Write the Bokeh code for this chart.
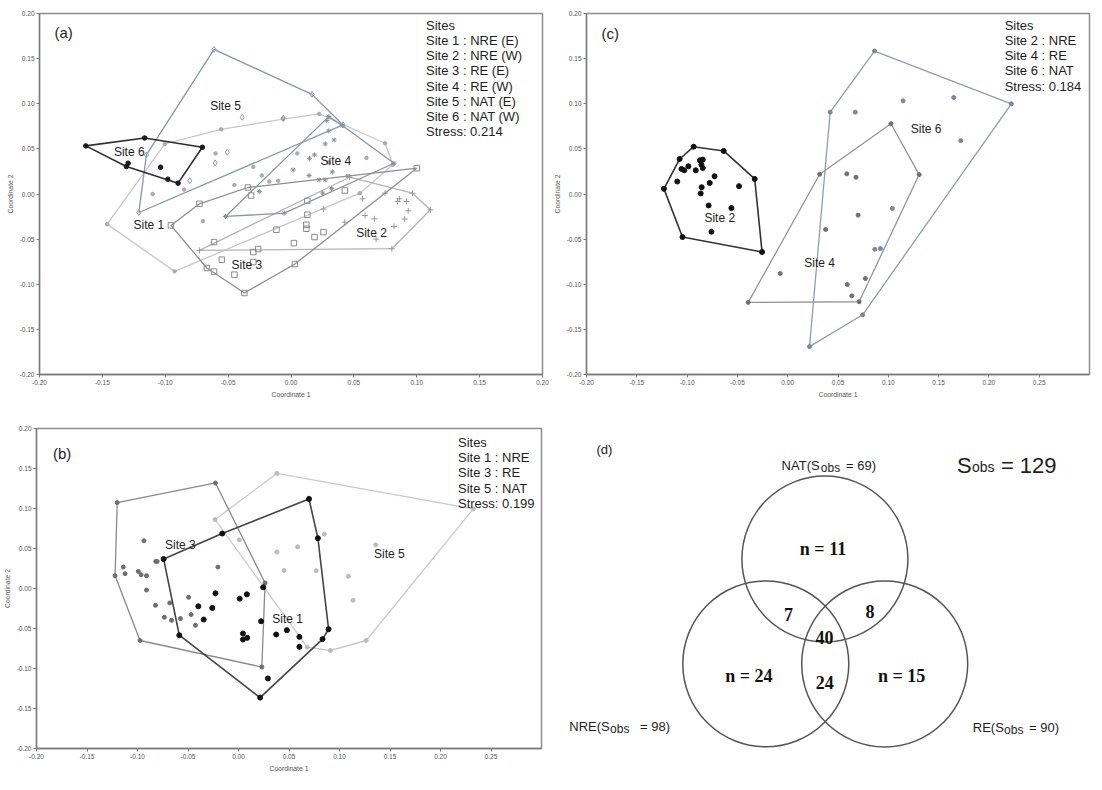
from bokeh.plotting import figure
from bokeh.layouts import column, row
from bokeh.models import Range1d, FixedTicker, PrintfTickFormatter
from bokeh.core.properties import value
from bokeh.embed import file_html
from bokeh.resources import INLINE

SANS = "Liberation Sans"
SERIF = "Liberation Serif"

# ---------------------------------------------------------------- data
ticks_a = [-0.20, -0.15, -0.10, -0.05, 0.00, 0.05, 0.10, 0.15, 0.20]
ticks_wide = [-0.20, -0.15, -0.10, -0.05, 0.00, 0.05, 0.10, 0.15, 0.20, 0.25]
stress = {"a": 0.214, "b": 0.199, "c": 0.184}

# (a) all six sites
a_s1_x = [-0.1462, -0.1003, -0.0555, -0.0062, 0.0224, 0.0748, 0.0810, 0.0547, -0.0926,
          -0.085, -0.060, -0.030, -0.045, 0.005, 0.030, 0.045, -0.110, -0.070, 0.060,
          -0.0232, -0.0173, -0.0102]
a_s1_y = [-0.0334, 0.0555, 0.0717, 0.0830, 0.0887, 0.0562, 0.0323, 0.0009, -0.0857,
          0.005, 0.045, 0.030, 0.010, 0.045, 0.035, 0.020, 0.000, -0.030, 0.040,
          0.0205, 0.0138, 0.0146]
a_s2_x = [-0.0728, 0.0465, 0.0966, 0.1108, 0.0802, 0.0569, 0.0589, 0.0663, 0.0847, 0.0861,
          0.0918, 0.0932, 0.0904, 0.0819, 0.0677, 0.0428, 0.0258, 0.0748]
a_s2_y = [-0.0625, 0.0186, 0.0009, -0.0175, -0.0606, -0.0053, -0.0238, -0.0275, -0.0083, -0.0053,
          -0.0083, -0.0186, -0.0278, -0.0359, -0.0500, -0.0312, -0.0168, 0.0009]
a_s3_x = [-0.0955, -0.0728, -0.0343, 0.1000, 0.0031, -0.0371, -0.0669, -0.0317, -0.0612, -0.0116,
          0.0130, 0.0130, 0.0122, 0.0122, 0.0187, 0.0258, 0.0023, -0.0300, -0.0261, -0.0550,
          -0.0450, -0.0612, -0.0300, 0.0428]
a_s3_y = [-0.0348, -0.0109, 0.0072, 0.0286, -0.0776, -0.1097, -0.0820, -0.0017, -0.0533, -0.0396,
          -0.0076, -0.0230, -0.0341, -0.0385, -0.0477, -0.0422, -0.0544, -0.0643, -0.0610, -0.0728,
          -0.0894, -0.0860, -0.0754, 0.0039]
a_s4_x = [-0.0521, 0.0300, 0.0408, 0.0819, -0.0054, 0.0187, 0.0147, 0.0272, 0.0343, 0.0300,
          0.0285, 0.0017, 0.0144, 0.0224, 0.0272, 0.0329, 0.0323, 0.0252, -0.0252]
a_s4_y = [-0.0249, 0.0857, 0.0758, 0.0341, -0.0212, 0.0433, 0.0396, 0.0555, 0.0599, 0.0699,
          0.0813, 0.0267, 0.0205, 0.0157, 0.0157, 0.0245, 0.0060, 0.0010, 0.0028]
a_s5_x = [-0.0612, 0.0167, 0.0414, -0.1210, -0.1150, -0.0388, -0.0062, -0.0507, -0.0603, -0.0805]
a_s5_y = [0.1602, 0.1104, 0.0765, -0.0205, 0.0433, 0.0850, 0.0839, 0.0463, 0.0345, 0.0146]
a_s6_x = [-0.1632, -0.1164, -0.0705, -0.0898, -0.0980, -0.1309, -0.1295, -0.1037]
a_s6_y = [0.0533, 0.0621, 0.0518, 0.0120, 0.0164, 0.0304, 0.0341, 0.0297]

# (b) east sites
b_s1_x = [-0.0741, -0.0161, 0.0698, 0.0786, 0.0892, 0.0832, 0.0214, -0.0586, -0.0398, -0.0345,
          -0.0260, -0.0228, 0.0012, 0.0083, 0.0245, 0.0224, 0.0044, 0.0044, 0.0086, 0.0373,
          0.0479, 0.0603, 0.0603, 0.0291]
b_s1_y = [0.0368, 0.0687, 0.1119, 0.0629, -0.0509, -0.0633, -0.1364, -0.0584, -0.0222, -0.0388,
          -0.0243, -0.0060, -0.0127, -0.0073, 0.0015, -0.0409, -0.0563, -0.0638, -0.0617, -0.0575,
          -0.0521, -0.0604, -0.0729, -0.1124]
b_s3_x = [-0.1201, -0.0228, 0.0263, 0.0231, -0.0975, -0.1222, -0.0936, -0.1141, -0.1123, -0.0992,
          -0.0964, -0.0911, -0.0911, -0.0819, -0.0805, -0.0822, -0.0681, -0.0734, -0.0663, -0.0575,
          -0.0494, -0.0469, -0.0426, -0.0204]
b_s3_y = [0.1074, 0.1319, 0.0069, -0.0982, -0.0650, 0.0160, 0.0596, 0.0268, 0.0185, 0.0214,
          0.0172, 0.0160, -0.0019, 0.0339, 0.0339, -0.0210, -0.0181, -0.0359, -0.0397, -0.0376,
          -0.0110, -0.0326, -0.0459, 0.0268]
b_s5_x = [0.0380, 0.2325, 0.1264, 0.0910, 0.0680, -0.0232, 0.0009, 0.0380, 0.0585, 0.0850,
          0.0451, 0.0769, 0.1087, 0.1133, 0.1359, 0.0700]
b_s5_y = [0.1439, 0.0995, -0.0650, -0.0775, -0.0733, 0.0862, 0.0608, 0.0455, 0.0521, 0.0679,
          0.0226, 0.0222, 0.0152, -0.0147, 0.0546, 0.1130]

# (c) west sites
c_s2_x = [-0.1230, -0.1074, -0.0935, -0.0636, -0.0328, -0.0255, -0.1046, -0.1098, -0.1056, -0.1028,
          -0.0987, -0.0914, -0.0872, -0.0844, -0.0858, -0.0844, -0.0727, -0.0775, -0.0855, -0.0865,
          -0.0484, -0.0786, -0.0560, -0.0758]
c_s2_y = [0.0057, 0.0388, 0.0524, 0.0477, 0.0167, -0.0642, -0.0477, 0.0138, 0.0278, 0.0263,
          0.0307, 0.0263, 0.0374, 0.0381, 0.0326, 0.0289, 0.0197, 0.0123, 0.0075, 0.0006,
          0.0087, -0.0127, -0.0156, -0.0418]
c_s4_x = [-0.0393, 0.0318, 0.1026, 0.1307, 0.0710, -0.0074, 0.0377, 0.0588, 0.0679, 0.0700,
          0.0772, 0.0592, 0.0637]
c_s4_y = [-0.1201, 0.0219, 0.0778, 0.0215, -0.1194, -0.0881, -0.0392, 0.0223, 0.0186, -0.0234,
          -0.0937, -0.1003, -0.1128]
c_s6_x = [0.0863, 0.2223, 0.0745, 0.0217, 0.0422, 0.0672, 0.1147, 0.1650, 0.1720, 0.1040,
          0.0866, 0.0922]
c_s6_y = [0.1584, 0.0999, -0.1338, -0.1691, 0.0907, 0.0907, 0.1032, 0.1069, 0.0591, -0.0160,
          -0.0613, -0.0605]

# (d) shared species
venn_sets = ["NAT", "NRE", "RE"]
venn_sobs = [69, 98, 90]
venn_unique = [11, 24, 15]
venn_pairs = [7, 8, 24]          # NAT-NRE, NAT-RE, NRE-RE
venn_core = 40
venn_total = 129


# ---------------------------------------------------------------- helpers
def convex_hull(xs, ys):
    pts = sorted(set(zip(xs, ys)))

    def cross(o, a, b):
        return (a[0] - o[0]) * (b[1] - o[1]) - (a[1] - o[1]) * (b[0] - o[0])

    lower, upper = [], []
    for pt in pts:
        while len(lower) >= 2 and cross(lower[-2], lower[-1], pt) <= 0:
            lower.pop()
        lower.append(pt)
    for pt in reversed(pts):
        while len(upper) >= 2 and cross(upper[-2], upper[-1], pt) <= 0:
            upper.pop()
        upper.append(pt)
    ring = lower[:-1] + upper[:-1]
    ring.append(ring[0])
    return [q[0] for q in ring], [q[1] for q in ring]


def put_text(p, xs, ys, texts, size, font=SANS, align="left", baseline="middle",
             color="#1e1e1e", style="normal"):
    p.text(x=xs, y=ys, text=texts, text_font=value(font), text_font_size=size,
           text_align=align, text_baseline=baseline, text_color=color,
           text_font_style=style)


def legend_block(p, x0, y0, dy, lines):
    ys = [y0 - i * dy for i in range(len(lines))]
    put_text(p, [x0] * len(lines), ys, lines, "13px")


def draw_site(p, xs, ys, marker, size, color, hull_color, hull_width, hollow=False):
    hx, hy = convex_hull(xs, ys)
    p.line(hx, hy, line_color=hull_color, line_width=hull_width)
    p.scatter(xs, ys, marker=marker, size=size, line_color=color,
              fill_color=None if hollow else color, line_width=1)


def nmds_figure(width, height, x_end, xticks, left, right, top, bottom):
    p = figure(width=width, height=height, x_range=Range1d(-0.2, x_end),
               y_range=Range1d(-0.2, 0.2), output_backend="svg", toolbar_location=None,
               min_border_left=left, min_border_right=right,
               min_border_top=top, min_border_bottom=bottom)
    p.xaxis.ticker = FixedTicker(ticks=xticks)
    p.yaxis.ticker = FixedTicker(ticks=ticks_a)
    p.xaxis.axis_label = "Coordinate 1"
    p.yaxis.axis_label = "Coordinate 2"
    for ax in (p.xaxis[0], p.yaxis[0]):
        ax.formatter = PrintfTickFormatter(format="%.2f")
        ax.major_label_text_font = SANS
        ax.major_label_text_font_size = "6.5px"
        ax.major_label_text_color = "#555555"
        ax.axis_label_text_font = SANS
        ax.axis_label_text_font_size = "6.8px"
        ax.axis_label_text_font_style = "normal"
        ax.axis_label_text_color = "#555555"
        ax.axis_line_color = "#7a7a7a"
        ax.axis_line_width = 1.3
        ax.major_tick_line_color = "#7a7a7a"
        ax.major_tick_out = 3
        ax.major_tick_in = 0
        ax.minor_tick_line_color = None
        ax.major_label_standoff = 2
        ax.axis_label_standoff = 3
    p.xgrid.visible = False
    p.ygrid.visible = False
    p.outline_line_color = "#8c8c8c"
    p.outline_line_width = 1.5
    p.background_fill_color = "white"
    return p


# ---------------------------------------------------------------- (a)
pa = nmds_figure(550, 420, 0.2, ticks_a, 39, 8, 13, 46)
draw_site(pa, a_s1_x, a_s1_y, "circle", 3.5, "#ababab", "#c8c8c8", 1.3)
draw_site(pa, a_s2_x, a_s2_y, "cross", 6, "#9a9a9a", "#b4b4b4", 1.3)
draw_site(pa, a_s3_x, a_s3_y, "square", 5.5, "#8a8a8a", "#8e8e8e", 1.3, hollow=True)
draw_site(pa, a_s4_x, a_s4_y, "asterisk", 5, "#8a9099", "#8896aa", 1.3)
draw_site(pa, a_s5_x, a_s5_y, "diamond", 6, "#8d9cb0", "#8497b0", 1.3, hollow=True)
draw_site(pa, a_s6_x, a_s6_y, "circle", 4.5, "#1a1a1a", "#2e2e2e", 1.6)
put_text(pa, [-0.1881], [0.1790], ["(a)"], "15px")
put_text(pa, [-0.0521, -0.1286, 0.0357, -0.1130, 0.0640, -0.0351],
         [0.0975, 0.0466, 0.0370, -0.0341, -0.0433, -0.0791],
         ["Site 5", "Site 6", "Site 4", "Site 1", "Site 2", "Site 3"], "12px", align="center")
legend_block(pa, 0.1074, 0.1867, 0.0168,
             ["Sites", "Site 1 : NRE (E)", "Site 2 : NRE (W)", "Site 3 : RE (E)",
              "Site 4 : RE (W)", "Site 5 : NAT (E)", "Site 6 : NAT (W)",
              "Stress: %.3f" % stress["a"]])

# ---------------------------------------------------------------- (c)
pc = nmds_figure(552, 420, 0.3, ticks_wide, 35, 13, 13, 46)
draw_site(pc, c_s4_x, c_s4_y, "circle", 4, "#707070", "#959595", 1.3)
draw_site(pc, c_s6_x, c_s6_y, "circle", 4, "#7a8799", "#8d9db3", 1.3)
draw_site(pc, c_s2_x, c_s2_y, "circle", 5, "#111111", "#333333", 1.6)
put_text(pc, [-0.1851], [0.1779], ["(c)"], "15px")
put_text(pc, [-0.0675, 0.0318, 0.1376], [-0.0263, -0.0760, 0.0723],
         ["Site 2", "Site 4", "Site 6"], "12px", align="center")
legend_block(pc, 0.2157, 0.1868, 0.0168,
             ["Sites", "Site 2 : NRE", "Site 4 : RE", "Site 6 : NAT",
              "Stress: %.3f" % stress["c"]])

# ---------------------------------------------------------------- (b)
pb = nmds_figure(560, 370, 0.3, ticks_wide, 36, 19, 8, 42)
draw_site(pb, b_s5_x, b_s5_y, "circle", 4, "#bcbcbc", "#cacaca", 1.3)
draw_site(pb, b_s3_x, b_s3_y, "circle", 4, "#6e6e6e", "#8a8a8a", 1.3)
draw_site(pb, b_s1_x, b_s1_y, "circle", 5, "#111111", "#444444", 1.6)
put_text(pb, [-0.1837], [0.1688], ["(b)"], "15px")
put_text(pb, [-0.0575, 0.0486, 0.1494], [0.0538, -0.0380, 0.0430],
         ["Site 3", "Site 1", "Site 5"], "12px", align="center")
legend_block(pb, 0.2173, 0.1826, 0.0190,
             ["Sites", "Site 1 : NRE", "Site 3 : RE", "Site 5 : NAT",
              "Stress: %.3f" % stress["b"]])

# ---------------------------------------------------------------- (d)
# Same border sizes as its row neighbour, so the frame spans page px 428..748;
# the ranges are expressed in page pixels (y downwards).
pd_ = figure(width=542, height=370, x_range=Range1d(560, 1102), y_range=Range1d(748, 428),
             output_backend="svg", toolbar_location=None,
             min_border_left=0, min_border_right=0, min_border_top=8, min_border_bottom=42,
             x_axis_location=None, y_axis_location=None)
pd_.xgrid.visible = False
pd_.ygrid.visible = False
pd_.outline_line_color = None

circle_cx = [824.4, 765.3, 884.2]
circle_cy = [558.5, 663.4, 663.4]
pd_.circle(x=circle_cx, y=circle_cy, radius=83, fill_color=None,
           line_color="#555555", line_width=1.5)

put_text(pd_, [603.9], [448.8], ["(d)"], "13px", align="center")


def set_label(p, name, sobs, x_head, x_sub, x_tail, base, size, sub_size, drop):
    put_text(p, [x_head], [base], [name + "(S" if name else "S"], size, baseline="alphabetic")
    put_text(p, [x_sub], [base + drop], ["obs"], sub_size, baseline="alphabetic")
    put_text(p, [x_tail], [base], ["= %d" % sobs + (")" if name else "")], size,
             baseline="alphabetic")


set_label(pd_, venn_sets[0], venn_sobs[0], 781.1, 820.3, 845.5, 464.6, "13px", "12px", 2.5)
set_label(pd_, venn_sets[1], venn_sobs[1], 568.8, 609.6, 639.5, 726.0, "13px", "12px", 2.5)
set_label(pd_, venn_sets[2], venn_sobs[2], 972.3, 1003.6, 1028.5, 727.1, "13px", "12px", 2.5)
set_label(pd_, "", venn_total, 956.5, 971.4, 1000.4, 464.6, "22px", "14px", 2)

num_x = [822.5, 748.4, 901.1, 788.1, 869.5, 824.2, 823.9]
num_y = [548.8, 675.1, 675.1, 613.7, 611.3, 681.5, 636.5]
num_text = ["n = %d" % n for n in venn_unique] + [str(n) for n in venn_pairs] + [str(venn_core)]
put_text(pd_, num_x, num_y, num_text, "18px", font=SERIF, align="center",
         baseline="alphabetic", color="#111111", style="bold")

layout = column(row(pa, pc), row(pb, pd_))
open("out.html", "w").write(file_html(layout, INLINE))
